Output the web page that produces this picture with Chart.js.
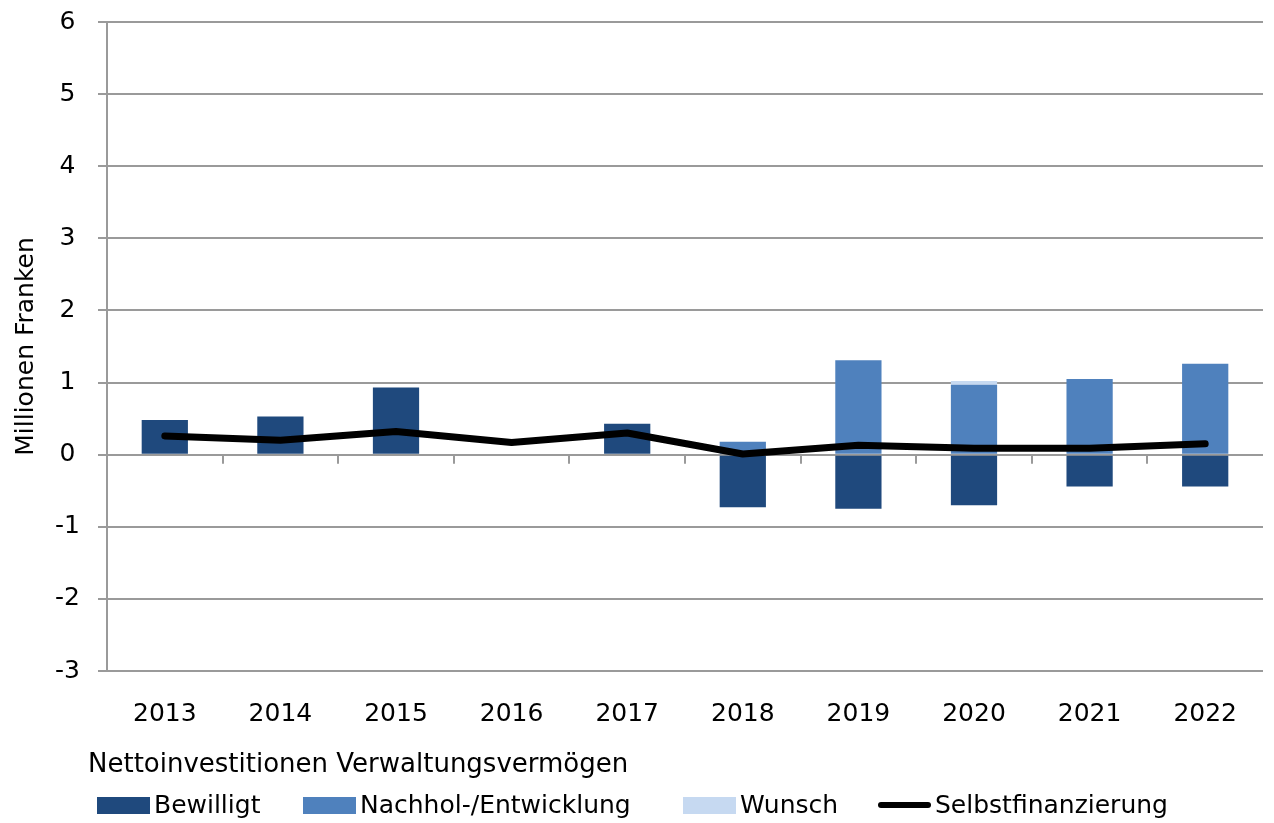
<!DOCTYPE html>
<html>
<head>
<meta charset="utf-8">
<script src="https://cdn.jsdelivr.net/npm/chart.js@4.4.0/dist/chart.umd.min.js"></script>
<style>
  html, body { margin: 0; padding: 0; background: #fff; }
  #wrap { width: 1274px; height: 823px; position: relative; }
</style>
</head>
<body>
<div id="wrap"><canvas id="c" width="1274" height="823"></canvas></div>
<script>
const categories = ['2013','2014','2015','2016','2017','2018','2019','2020','2021','2022'];
const bewilligt = [0.48, 0.53, 0.93, 0, 0.43, -0.73, -0.75, -0.70, -0.44, -0.44];
const nachhol   = [0, 0, 0, 0, 0, 0.18, 1.31, 0.97, 1.05, 1.26];
const wunsch    = [0, 0, 0, 0, 0, 0, 0, 0.05, 0, 0];
const selbst    = [0.26, 0.20, 0.32, 0.17, 0.30, 0.01, 0.13, 0.09, 0.09, 0.15];
const yMin = -3, yMax = 6, yStep = 1;
const legendTitle = 'Nettoinvestitionen Verwaltungsvermögen';
const yTitle = 'Millionen Franken';
const legendOrder = ['Bewilligt', 'Nachhol-/Entwicklung', 'Wunsch', 'Selbstfinanzierung'];

const FONT = "'DejaVu Sans', sans-serif";
const GRID = '#9a9a9a';

// small tick marks on the zero line between categories
const zeroTicks = {
  id: 'zeroTicks',
  afterDatasetsDraw(chart) {
    const x = chart.scales.x, y = chart.scales.y;
    const y0 = y.getPixelForValue(0);
    const ctx = chart.ctx;
    ctx.save();
    ctx.strokeStyle = GRID;
    ctx.lineWidth = 2;
    ctx.beginPath();
    for (let i = 1; i < categories.length; i++) {
      const px = Math.round(x.getPixelForValue(i - 0.5));
      ctx.moveTo(px, y0);
      ctx.lineTo(px, y0 + 9);
    }
    ctx.stroke();
    ctx.restore();
  }
};

// legend drawn from the chart's datasets, laid out like the original
const customLegend = {
  id: 'customLegend',
  afterDraw(chart) {
    const ctx = chart.ctx;
    ctx.save();
    ctx.fillStyle = '#000';
    ctx.textBaseline = 'alphabetic';
    ctx.textAlign = 'left';
    ctx.font = "26px 'DejaVu Sans', sans-serif";
    ctx.fillText(legendTitle, 88, 772);
    ctx.font = "25px 'DejaVu Sans', sans-serif";
    const slots = [97, 303, 683, 878];
    const boxW = 53;
    legendOrder.forEach((name, i) => {
      const ds = chart.data.datasets.find(d => d.label === name);
      const x0 = slots[i];
      if (ds.type === 'line') {
        ctx.strokeStyle = ds.borderColor;
        ctx.lineWidth = 6;
        ctx.lineCap = 'round';
        ctx.beginPath();
        ctx.moveTo(x0 + 3, 805);
        ctx.lineTo(x0 + boxW - 3, 805);
        ctx.stroke();
      } else {
        ctx.fillStyle = ds.backgroundColor;
        ctx.fillRect(x0, 797, boxW, 17);
      }
      ctx.fillStyle = '#000';
      ctx.fillText(name, x0 + boxW + 4, 813);
    });
    ctx.restore();
  }
};

new Chart(document.getElementById('c'), {
  data: {
    labels: categories,
    datasets: [
      { type: 'line', label: 'Selbstfinanzierung', data: selbst, borderColor: '#000', backgroundColor: '#000',
        borderWidth: 7, pointRadius: 0, borderCapStyle: 'round', borderJoinStyle: 'round', tension: 0, order: 0 },
      { type: 'bar', label: 'Bewilligt', data: bewilligt, backgroundColor: '#1f497d', stack: 's', order: 1,
        categoryPercentage: 1, barPercentage: 0.4 },
      { type: 'bar', label: 'Nachhol-/Entwicklung', data: nachhol, backgroundColor: '#4f81bd', stack: 's', order: 1,
        categoryPercentage: 1, barPercentage: 0.4 },
      { type: 'bar', label: 'Wunsch', data: wunsch, backgroundColor: '#c6d9f1', stack: 's', order: 1,
        categoryPercentage: 1, barPercentage: 0.4 }
    ]
  },
  options: {
    responsive: false,
    animation: false,
    devicePixelRatio: 1,
    layout: { padding: { left: 11, right: 11, top: 22, bottom: 88 } },
    scales: {
      x: {
        stacked: true,
        grid: { display: false, drawTicks: false },
        border: { display: false },
        ticks: { color: '#000', font: { family: FONT, size: 25 }, padding: 28 },
        afterFit(s) { s.height = 64; s.paddingLeft = 0; s.paddingRight = 0; }
      },
      y: {
        stacked: true,
        min: yMin, max: yMax,
        ticks: { stepSize: yStep, color: '#000', font: { family: FONT, size: 25 }, padding: 18, crossAlign: 'center' },
        grid: { color: GRID, lineWidth: 2, tickLength: 9, drawTicks: true },
        border: { display: true, color: GRID, width: 2 },
        title: { display: true, text: yTitle, color: '#000', font: { family: FONT, size: 25 }, padding: 0 },
        afterFit(s) { s.width = 96; s.paddingTop = 0; s.paddingBottom = 0; }
      }
    },
    plugins: {
      tooltip: { enabled: false },
      legend: { display: false }
    }
  },
  plugins: [zeroTicks, customLegend]
});
</script>
</body>
</html>
